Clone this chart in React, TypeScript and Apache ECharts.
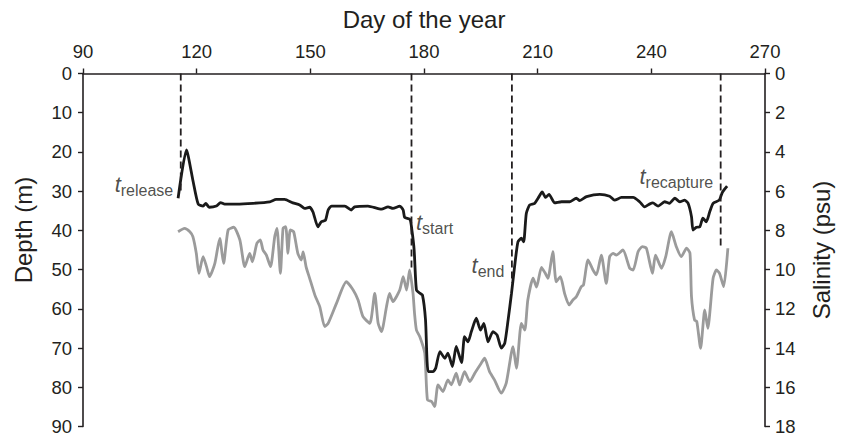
import React, { useEffect, useRef } from "react";
import * as echarts from "echarts";

// ---- data ----
const dayAxis = { min: 90, max: 270, step: 30 };
const depthAxis = { min: 0, max: 90, step: 10 };
const salinityAxis = { min: 0, max: 18, step: 2 };

const depthDays = [
  115.1, 117.3, 119.0, 120.4, 121.7, 122.4, 123.3, 125.2, 126.3, 127.4,
  130.5, 134.9, 139.3, 141.0, 143.2, 145.4, 147.2, 148.5, 149.8, 150.7,
  152.0, 152.9, 154.0, 154.7, 155.6, 159.1, 160.8, 161.7, 165.2, 168.8,
  170.5, 171.8, 173.6, 174.5, 174.9, 176.3, 176.8, 177.4, 178.0, 178.9,
  179.6, 180.4, 181.1, 182.4, 183.1, 184.2, 185.5, 186.3, 187.5, 188.5,
  189.9, 190.7, 191.6, 192.5, 193.8, 194.9, 195.8, 196.9, 198.2, 199.3,
  200.4, 201.3, 202.2, 203.1, 203.9, 204.8, 205.7, 206.3, 207.0, 207.9,
  209.2, 210.1, 211.2, 212.1, 213.0, 214.5, 216.3, 218.5, 220.2, 221.1,
  222.9, 226.4, 229.0, 230.3, 232.1, 235.2, 236.9, 238.2, 239.5, 240.4,
  241.8, 243.5, 244.8, 246.2, 247.5, 248.8, 249.7, 250.6, 251.0, 251.9,
  252.8, 253.6, 254.5, 255.4, 256.3, 257.9, 258.8, 260.0,
];
const depthValues = [
  31.8, 19.5, 27.2, 33.3, 33.8, 33.1, 34.1, 33.8, 32.9, 33.3,
  33.3, 33.1, 32.7, 32.1, 32.1, 33.0, 33.5, 34.4, 34.1, 35.3,
  39.1, 37.8, 37.4, 34.8, 33.8, 33.8, 34.8, 34.0, 33.8, 34.6,
  34.0, 34.4, 33.8, 34.8, 36.7, 37.2, 39.9, 45.0, 55.2, 56.0,
  56.5, 62.8, 76.0, 76.0, 75.1, 70.9, 72.6, 71.3, 74.7, 69.6,
  73.7, 67.1, 68.4, 65.8, 62.4, 65.4, 63.7, 68.4, 65.8, 66.7,
  70.0, 68.8, 62.8, 56.0, 49.3, 42.9, 42.0, 42.9, 35.7, 33.5,
  33.1, 31.8, 30.2, 31.6, 30.8, 33.0, 32.7, 32.7, 31.8, 32.4,
  31.4, 30.8, 31.3, 32.3, 31.6, 31.6, 32.7, 34.0, 33.3, 33.0,
  33.8, 32.7, 33.1, 31.8, 32.7, 32.3, 33.1, 36.5, 39.9, 39.2,
  39.1, 36.9, 37.8, 35.3, 33.1, 32.3, 30.2, 28.7,
];

const salinityDays = [
  115.1, 116.8, 118.2, 119.0, 119.9, 120.6, 121.7, 122.6, 123.4, 124.8,
  126.1, 127.1, 128.3, 129.8, 131.4, 132.7, 134.0, 134.7, 135.9, 136.8,
  137.5, 138.4, 139.5, 140.6, 141.2, 142.1, 142.8, 143.5, 144.1, 144.7,
  145.6, 146.7, 147.6, 148.1, 148.9, 149.8, 151.2, 152.5, 153.8, 154.7,
  156.9, 159.5, 161.3, 162.6, 163.9, 165.7, 167.0, 167.9, 168.8, 170.1,
  170.9, 171.8, 173.6, 174.5, 175.4, 176.2, 177.1, 177.5, 178.0, 178.9,
  180.2, 180.9, 182.0, 182.8, 183.7, 185.0, 186.3, 187.2, 188.5, 189.4,
  190.7, 192.1, 193.4, 195.1, 196.0, 197.3, 198.6, 200.4, 201.7, 203.5,
  204.4, 205.7, 206.6, 207.4, 208.8, 209.7, 211.0, 211.9, 212.7, 214.0,
  214.9, 216.0, 217.1, 218.3, 219.3, 220.2, 221.5, 222.1, 223.3, 224.6,
  225.5, 226.8, 228.1, 229.0, 229.9, 230.8, 232.5, 234.3, 235.2, 236.5,
  237.6, 238.7, 240.3, 241.1, 242.7, 243.8, 245.3, 246.6, 247.9, 249.3,
  250.2, 250.6, 251.4, 252.0, 253.0, 254.1, 254.9, 256.3, 257.2, 258.0,
  259.1, 260.2,
];
const salinityValues = [
  8.07, 7.9, 8.07, 8.32, 9.17, 10.19, 9.34, 9.85, 10.36, 9.68,
  8.41, 9.68, 7.98, 7.84, 8.49, 9.85, 9.17, 9.6, 8.66, 8.49,
  9.0, 9.26, 9.85, 8.32, 7.9, 10.19, 7.9, 7.81, 9.17, 7.98,
  8.07, 9.17, 9.51, 9.1, 9.87, 10.43, 11.3, 11.9, 12.91, 12.74,
  11.72, 10.62, 11.04, 11.55, 12.4, 12.74, 11.21, 12.74, 13.16, 11.89,
  11.21, 11.63, 11.04, 10.36, 11.04, 10.02, 11.21, 12.23, 13.08, 13.42,
  14.26, 16.64, 16.73, 16.98, 15.88, 16.22, 15.62, 15.88, 15.28, 15.88,
  15.2, 15.71, 15.28, 14.77, 14.52, 15.2, 15.62, 16.3, 15.79, 13.93,
  15.03, 12.74, 13.08, 11.55, 10.43, 10.89, 9.89, 10.15, 10.44, 9.09,
  10.62, 10.36, 11.21, 11.8, 11.55, 11.38, 10.87, 10.78, 9.51, 10.02,
  10.27, 9.26, 10.7, 9.34, 9.17, 9.26, 9.0, 9.93, 10.02, 9.09,
  8.83, 8.91, 10.19, 9.26, 9.93, 9.34, 8.07, 8.83, 9.34, 8.91,
  9.17, 11.38, 12.57, 12.65, 14.01, 12.06, 12.99, 10.44, 10.02, 10.19,
  10.87, 8.91,
];

// events: t_release, t_start, t_end, t_recapture
const eventNames = ["release", "start", "end", "recapture"];
const eventDays = [115.8, 176.7, 203.2, 258.3];
const eventLineEndDepths = [30.4, 50.0, 53.4, 44.4];
const eventLabelDepths = [28.4, 38.0, 49.2, 26.4];
const eventLabelSides = ["left", "right", "left", "left"];

// ---- styling ----
const FONT = '"Liberation Sans", Arial, Helvetica, sans-serif';
const INK = "#231f20";
const GRAY = "#9b9b9b";

export default function App() {
  const ref = useRef<HTMLDivElement>(null);

  useEffect(() => {
    if (!ref.current) return;
    const chart = echarts.init(ref.current, undefined, { renderer: "svg" });

    const depthData = depthDays.map((d, i) => [d, depthValues[i]]);
    const salData = salinityDays.map((d, i) => [d, salinityValues[i]]);

    const dashedSeries = eventDays.map((d, i) => ({
      type: "line",
      xAxisIndex: 0,
      yAxisIndex: 0,
      symbol: "none",
      silent: true,
      z: 4,
      data: [
        [d, depthAxis.min],
        [d, eventLineEndDepths[i]],
      ],
      lineStyle: { color: INK, width: 1.8, type: [7, 4] },
    }));

    const labelSeries = eventDays.map((d, i) => ({
      type: "scatter",
      xAxisIndex: 0,
      yAxisIndex: 0,
      symbolSize: 1,
      silent: true,
      z: 5,
      itemStyle: { color: "rgba(0,0,0,0)" },
      data: [[d, eventLabelDepths[i]]],
      label: {
        show: true,
        position: eventLabelSides[i],
        distance: eventLabelSides[i] === "left" ? 7 : 4,
        formatter: `{t|t}{s|${eventNames[i]}}`,
        rich: {
          t: {
            fontFamily: FONT,
            fontSize: 22,
            fontStyle: "italic",
            color: INK,
            lineHeight: 23,
            verticalAlign: "top",
          },
          s: {
            fontFamily: FONT,
            fontSize: 16,
            color: INK,
            lineHeight: 17,
            padding: [9, 0, 0, 0],
            verticalAlign: "top",
          },
        },
      },
    }));

    const axisCommon = {
      type: "value",
      nameLocation: "middle",
      nameTextStyle: { fontFamily: FONT, fontSize: 24, color: INK },
      axisLine: { show: true, onZero: false, lineStyle: { color: INK, width: 1.6 } },
      axisTick: { show: true, inside: false, length: 5, lineStyle: { color: INK, width: 1.4 } },
      axisLabel: { fontFamily: FONT, fontSize: 18.5, color: INK },
      splitLine: { show: false },
    };

    chart.setOption({
      animation: false,
      backgroundColor: "#ffffff",
      textStyle: { fontFamily: FONT },
      grid: {
        left: 83,
        top: 73.5,
        width: 682,
        height: 353,
        containLabel: false,
        outerBoundsMode: "none",
      },
      xAxis: {
        ...axisCommon,
        position: "top",
        min: dayAxis.min,
        max: dayAxis.max,
        interval: dayAxis.step,
        name: "Day of the year",
        nameGap: 42,
        axisLabel: { ...axisCommon.axisLabel, margin: 13 },
      },
      yAxis: [
        {
          ...axisCommon,
          position: "left",
          inverse: true,
          min: depthAxis.min,
          max: depthAxis.max,
          interval: depthAxis.step,
          name: "Depth (m)",
          nameGap: 48,
          nameRotate: 90,
          nameTextStyle: { ...axisCommon.nameTextStyle, padding: [0, 0, 0, 40] },
          axisLabel: { ...axisCommon.axisLabel, margin: 11 },
        },
        {
          ...axisCommon,
          position: "right",
          inverse: true,
          min: salinityAxis.min,
          max: salinityAxis.max,
          interval: salinityAxis.step,
          name: "Salinity (psu)",
          nameGap: 44,
          nameRotate: 90,
          axisLabel: { ...axisCommon.axisLabel, margin: 10 },
        },
      ],
      series: [
        {
          type: "line",
          name: "Salinity",
          xAxisIndex: 0,
          yAxisIndex: 1,
          symbol: "none",
          smooth: 0.2,
          silent: true,
          z: 2,
          data: salData,
          lineStyle: { color: GRAY, width: 2.8 },
        },
        {
          type: "line",
          name: "Depth",
          xAxisIndex: 0,
          yAxisIndex: 0,
          symbol: "none",
          smooth: 0.2,
          silent: true,
          z: 3,
          data: depthData,
          lineStyle: { color: "#1a1a1a", width: 2.8 },
        },
        ...dashedSeries,
        ...labelSeries,
      ],
    });

    return () => chart.dispose();
  }, []);

  return (
    <div
      ref={ref}
      style={{ position: "absolute", left: 0, top: 0, width: 845, height: 434 }}
    />
  );
}
